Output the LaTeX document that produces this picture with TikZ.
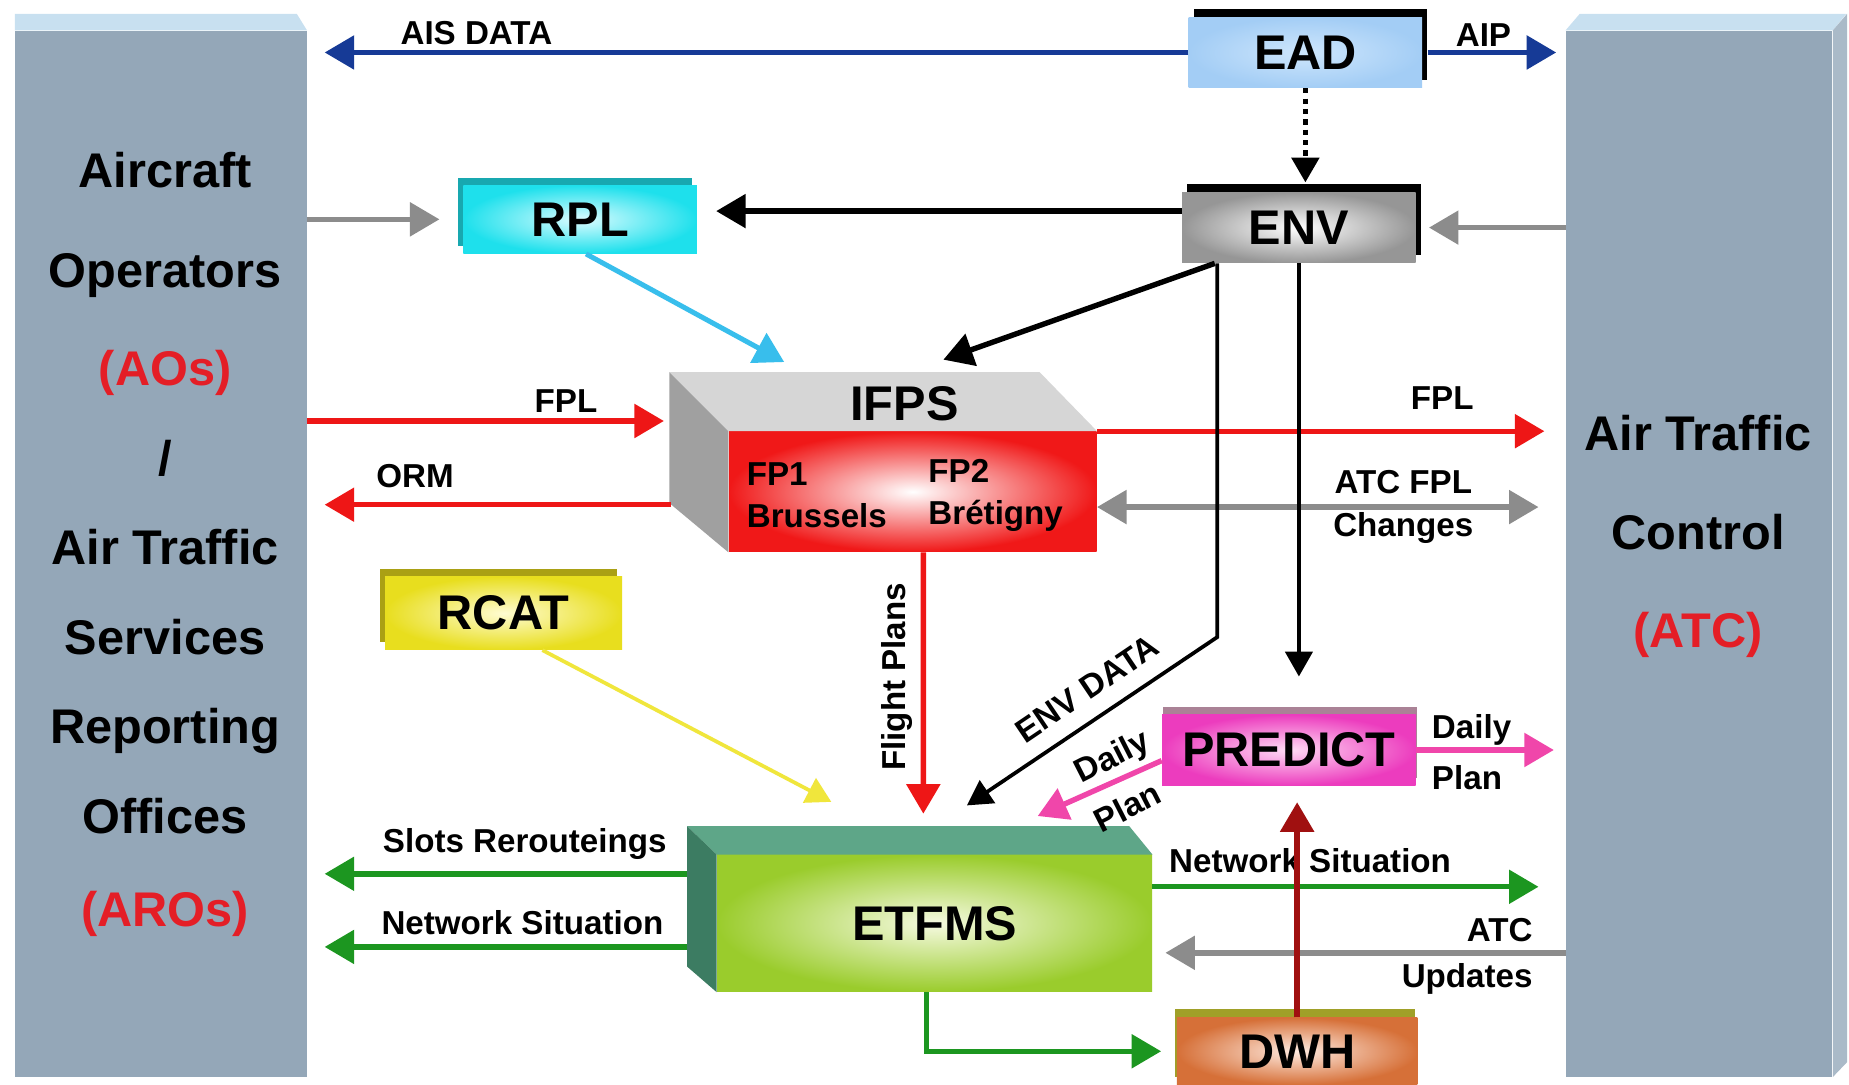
\documentclass[tikz,border=0pt]{standalone}
\usepackage{fontspec}
\setmainfont{Liberation Sans}
\usetikzlibrary{arrows.meta,shadows,positioning,calc}

\definecolor{panelgrey}{RGB}{148,167,184}
\definecolor{paneltop}{RGB}{200,224,240}
\definecolor{panelside}{RGB}{170,186,200}
\definecolor{aisblue}{RGB}{22,58,150}
\definecolor{fplred}{RGB}{238,22,22}
\definecolor{lblred}{RGB}{228,30,38}
\definecolor{linkgrey}{RGB}{140,140,140}
\definecolor{rplcyan}{RGB}{56,190,236}
\definecolor{flowgreen}{RGB}{28,150,32}
\definecolor{rcatyellow}{RGB}{240,230,60}
\definecolor{predpink}{RGB}{240,70,170}
\definecolor{dwhred}{RGB}{160,16,16}
\definecolor{eadin}{RGB}{206,230,252}
\definecolor{eadout}{RGB}{163,205,245}
\definecolor{envout}{RGB}{150,150,150}
\definecolor{rplin}{RGB}{220,252,255}
\definecolor{rplout}{RGB}{30,224,236}
\definecolor{rplside}{RGB}{24,168,176}
\definecolor{rcatin}{RGB}{255,252,210}
\definecolor{rcatout}{RGB}{232,222,30}
\definecolor{rcatside}{RGB}{170,160,20}
\definecolor{predin}{RGB}{255,220,245}
\definecolor{predout}{RGB}{236,60,190}
\definecolor{predside}{RGB}{170,130,150}
\definecolor{dwhin}{RGB}{255,235,225}
\definecolor{dwhout}{RGB}{214,112,56}
\definecolor{dwhside}{RGB}{160,160,40}
\definecolor{ifpsout}{RGB}{240,24,24}
\definecolor{ifpstop}{RGB}{214,214,214}
\definecolor{ifpsside}{RGB}{160,160,160}
\definecolor{etfmsin}{RGB}{246,250,225}
\definecolor{etfmsout}{RGB}{154,204,44}
\definecolor{etfmstop}{RGB}{94,166,136}
\definecolor{etfmsside}{RGB}{60,124,98}

\begin{document}
\begin{tikzpicture}[x=0.02cm, y=-0.02cm,
panel/.style={fill=panelgrey, inner sep=0pt},
paneltext/.style={font=\fontsize{23.5}{43.2}\selectfont\bfseries, align=center, inner sep=0pt},
boxlbl/.style={font=\fontsize{23.5}{28}\selectfont\bfseries, inner sep=0pt},
flat/.style={boxlbl, minimum width=3.96cm, minimum height=1.2cm},
lbl/.style={font=\fontsize{16}{20.5}\selectfont\bfseries, inner sep=0pt},
bigtip/.style={-{Triangle[length=0.5cm,width=0.56cm]}},
smalltip/.style={-{Triangle[length=0.42cm,width=0.46cm]}},
aisarrow/.style={bigtip, draw=aisblue, line width=2.6pt},
redarrow/.style={bigtip, draw=fplred, line width=2.6pt},
greyarrow/.style={bigtip, draw=linkgrey, line width=2.6pt},
greenarrow/.style={bigtip, draw=flowgreen, line width=2.6pt},
pinkarrow/.style={bigtip, draw=predpink, line width=2.6pt},
blackarrow/.style={bigtip, draw=black, line width=2.6pt},
blackthin/.style={smalltip, draw=black, line width=1.8pt},
dotarrow/.style={smalltip, draw=black, line width=2.4pt, dash pattern=on 2.5pt off 2.5pt}]

\useasboundingbox (0,0) rectangle (1568,920);
\fill[white] (0,0) rectangle (1568,920);

\node[panel, minimum width=4.94cm, minimum height=17.74cm] (aopanel) at (136.5,469.5) {};
\fill[paneltop] (aopanel.north west) -- ++(0,-14) -- ++(239,0) -- (aopanel.north east) -- cycle;
\node[panel, minimum width=4.52cm, minimum height=17.74cm] (atcpanel) at (1441,469.5) {};
\fill[paneltop] (atcpanel.north west) -- ++(12,-14) -- ++(226,0) -- (atcpanel.north east) -- cycle;
\fill[panelside] (atcpanel.north east) -- ++(12,-14) -- ++(0,889) -- (atcpanel.south east) -- cycle;

\node[paneltext] (aotext) at (140,462) {Aircraft\\[5pt]Operators\\[4pt]\textcolor{lblred}{(AOs)}\\/\\Air Traffic\\Services\\Reporting\\Offices\\[2pt]\textcolor{lblred}{(AROs)}};
\node[paneltext, font=\fontsize{23.5}{47.4}\selectfont\bfseries] (atctext) at (1440,455) {Air Traffic\\Control\\\textcolor{lblred}{(ATC)}};

\node[flat, inner color=eadin, outer color=eadout, general shadow={fill=black, shadow xshift=2.5pt, shadow yshift=4pt}] (ead) at (1107,44.5) {EAD};
\node[flat, inner color=white, outer color=envout, general shadow={fill=black, shadow xshift=2.5pt, shadow yshift=4pt}] (env) at (1101.5,193) {ENV};
\node[flat, minimum height=1.16cm, inner color=rplin, outer color=rplout, general shadow={fill=rplside, shadow xshift=-2.5pt, shadow yshift=3.5pt}] (rpl) at (492,186) {RPL};
\node[flat, minimum width=4.02cm, minimum height=1.24cm, inner color=rcatin, outer color=rcatout, general shadow={fill=rcatside, shadow xshift=-2.5pt, shadow yshift=3.5pt}] (rcat) at (427,520) {RCAT};
\node[flat, minimum width=4.3cm, inner color=predin, outer color=predout, general shadow={fill=predside, shadow xshift=0.5pt, shadow yshift=3.5pt}] (predict) at (1093,636) {PREDICT};
\node[flat, minimum width=4.08cm, minimum height=1.14cm, inner color=dwhin, outer color=dwhout, general shadow={fill=dwhside, shadow xshift=-1pt, shadow yshift=4pt}] (dwh) at (1100,891.5) {DWH};

\node[minimum width=6.24cm, minimum height=2.04cm, inner sep=0pt, inner color=white, outer color=ifpsout] (ifps) at (774,417) {};
\fill[ifpstop] (ifps.north west) -- ++(-50,-50) -- ++(314,0) -- (ifps.north east) -- cycle;
\fill[ifpsside] (ifps.north west) -- ++(-50,-50) -- ++(0,111) -- (ifps.south west) -- cycle;
\node[boxlbl] (ifpslbl) at (767,342) {IFPS};
\node[lbl, align=left, anchor=west] (fp1) at (633,420) {FP1\\Brussels};
\node[lbl, align=left, anchor=west] (fp2) at (787,420) {FP2\\Brétigny};

\node[minimum width=7.38cm, minimum height=2.32cm, inner sep=0pt, inner color=etfmsin, outer color=etfmsout] (etfms) at (792.5,783) {};
\fill[etfmstop] (etfms.north west) -- ++(-25,-24) -- ++(375,0) -- (etfms.north east) -- cycle;
\fill[etfmsside] (etfms.north west) -- ++(-25,-24) -- ++(0,119) -- (etfms.south west) -- cycle;
\node[boxlbl] (etfmslbl) at (etfms.center) {ETFMS};

\coordinate (ifpsin1) at (665,307);
\coordinate (ifpsin2) at (800,305);
\coordinate (ifpsfpl) at (563,357);
\coordinate (ifpsorm) at (569,428);
\coordinate (ifpschg) at ([yshift=-0.26cm]ifps.east);
\coordinate (envout) at ([yshift=0.28cm]env.west);
\coordinate (etfmsin1) at (705,680);
\coordinate (etfmsin2) at (783,690);
\coordinate (etfmsin3) at (820,683);
\coordinate (etfmsin4) at (880,692);
\coordinate (etfmsslot) at (583,741);
\coordinate (etfmsnet) at (583,803);
\coordinate (etfmsnetr) at ([yshift=0.62cm]etfms.east);
\coordinate (etfmsupd) at ([yshift=-0.5cm]etfms.east);

\draw[aisarrow, shorten >=0.3cm] (ead.west) -- (ead.west -| aopanel.east);
\draw[aisarrow, shorten >=0.16cm] ([xshift=2.5pt]ead.east) -- (ead.east -| atcpanel.west);
\draw[dotarrow, shorten >=0.16cm] (ead.south) -- (ead.south |- env.north);
\draw[greyarrow, shorten >=0.22cm] (atcpanel.west |- env.east) -- (env.east);
\draw[blackarrow, shorten >=0.32cm] (envout) -- (envout -| rpl.east);
\draw[greyarrow, shorten >=0.4cm] (aopanel.east |- rpl.west) -- (rpl.west);
\draw[bigtip, draw=rplcyan, line width=2.4pt] ([xshift=0.1cm]rpl.south) -- (ifpsin1);
\draw[blackarrow] ([xshift=0.56cm]env.south west) -- (ifpsin2);

\draw[redarrow] (aopanel.east |- ifpsfpl) -- (ifpsfpl);
\draw[redarrow, shorten >=0.3cm] (ifpsorm) -- (ifpsorm -| aopanel.east);
\draw[redarrow, shorten >=0.36cm] (ifps.north east) -- (ifps.north east -| atcpanel.west);
\draw[{Triangle[length=0.5cm,width=0.56cm]}-{Triangle[length=0.5cm,width=0.56cm]}, draw=linkgrey, line width=2.6pt, shorten >=0.46cm] (ifpschg) -- (ifpschg -| atcpanel.west);
\draw[redarrow] ([xshift=0.18cm]ifps.south) -- (etfmsin2);

\draw[blackthin] ([xshift=0.6cm]env.south west) -- ++(0,317) -- (etfmsin3);
\draw[blackthin, shorten >=0.64cm] (env.south) -- (env.south |- predict.north);
\draw[smalltip, draw=rcatyellow, line width=1.8pt] ([xshift=0.66cm]rcat.south) -- (etfmsin1);
\draw[pinkarrow] ([yshift=-0.18cm]predict.west) -- (etfmsin4);
\draw[pinkarrow, shorten >=0.2cm] (predict.east) -- (predict.east -| atcpanel.west);

\draw[greenarrow, shorten >=0.3cm] (etfmsslot) -- (etfmsslot -| aopanel.east);
\draw[greenarrow, shorten >=0.3cm] (etfmsnet) -- (etfmsnet -| aopanel.east);
\draw[greenarrow, shorten >=0.46cm] (etfmsnetr) -- (etfmsnetr -| atcpanel.west);
\draw[greyarrow, shorten >=0.22cm] (etfmsupd -| atcpanel.west) -- (etfmsupd);
\draw[greenarrow, shorten >=0.26cm] ([xshift=-0.14cm]etfms.south) |- (dwh.west);

\node[lbl] (aislbl) at (404,28) {AIS DATA};
\node[lbl] (aiplbl) at (1258,30) {AIP};
\node[lbl] (fplinlbl) at (480,340) {FPL};
\node[lbl] (ormlbl) at (352,404) {ORM};
\node[lbl] (fploutlbl) at (1223,338) {FPL};
\node[lbl, align=center] (chglbl) at (1190,430) {ATC FPL\\Changes};
\node[lbl, rotate=90] (fplanslbl) at (761,574) {Flight Plans};
\node[lbl, rotate=34] (envdatalbl) at (922,584) {ENV DATA};
\node[lbl, rotate=27] (dailyl) at (944,643) {Daily};
\node[lbl, rotate=27] (planl) at (956,684) {Plan};
\node[lbl, align=left, anchor=west] (dplanr) at (1214,638) {Daily\\[4pt]Plan};
\node[lbl] (slotlbl) at (445,716) {Slots Rerouteings};
\node[lbl] (netlbl) at (443,782) {Network Situation};
\node[lbl] (netrlbl) at (1111,730) {Network Situation};
\node[lbl, align=right, anchor=east] (updlbl) at (1300,811) {ATC\\[1.5pt]Updates};

\draw[bigtip, draw=dwhred, line width=2.6pt, shorten >=0.28cm] (dwh.north) -- (dwh.north |- predict.south);
\end{tikzpicture}
\end{document}
